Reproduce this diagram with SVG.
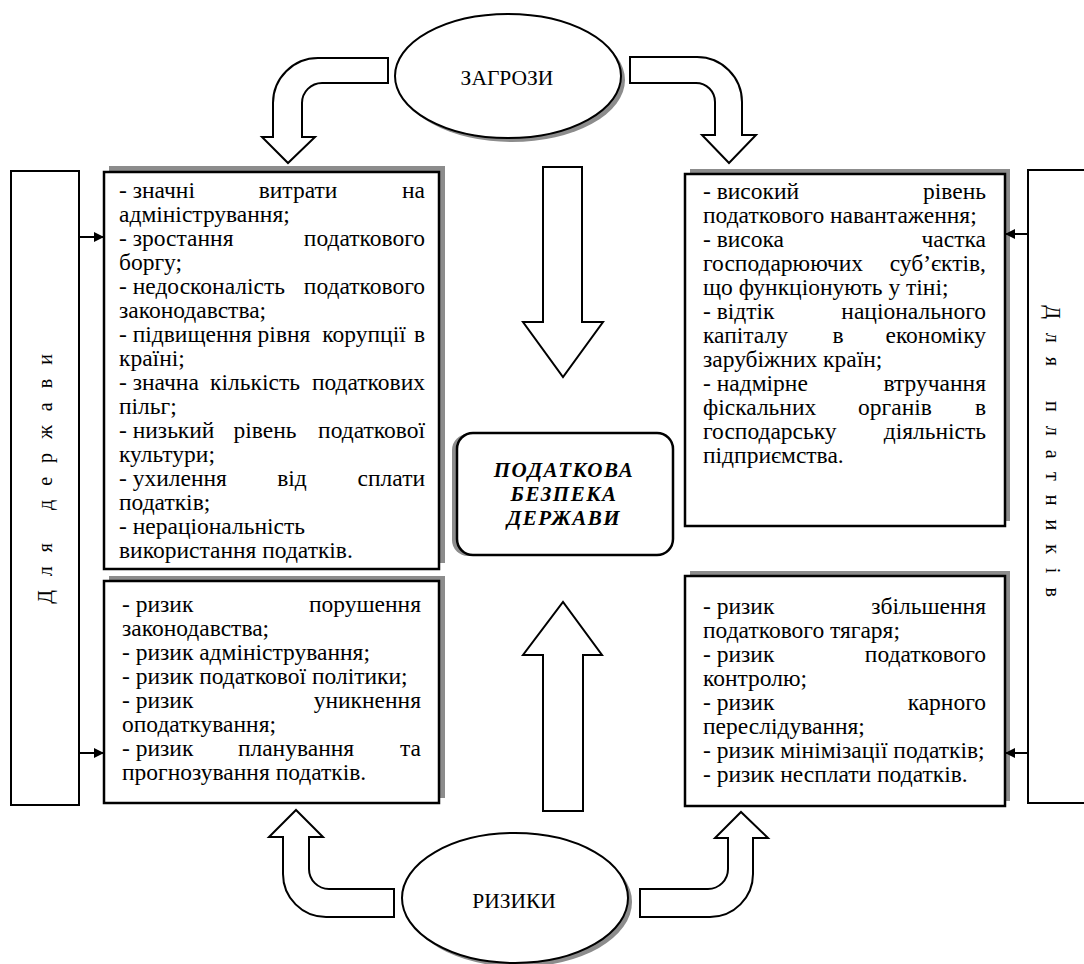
<svg xmlns="http://www.w3.org/2000/svg" width="1084" height="964" viewBox="0 0 1084 964">
<defs>
<style>
text{font-family:'Liberation Serif','Times New Roman',serif}
.t{font-size:23.5px;fill:#000}
.e{text-anchor:end}
.m{text-anchor:middle}
.box{fill:#fff;stroke:#000;stroke-width:2.5}
.shd{fill:#8c8c8c}
.side{fill:#fff;stroke:#000;stroke-width:2}
.arr{fill:#fff;stroke:#000;stroke-width:2;stroke-linejoin:miter}
.lbl{font-size:21.5px;text-anchor:middle}
.vt{font-size:20px;text-anchor:middle}
.ctr{font-size:21px;font-weight:bold;font-style:italic;text-anchor:middle;letter-spacing:1.5px}
.con{stroke:#000;stroke-width:2;fill:none}
</style>
<marker id="ah" viewBox="0 0 10 10" refX="10" refY="5" markerWidth="10" markerHeight="10" markerUnits="userSpaceOnUse" orient="auto">
<path d="M0,0 L10,5 L0,10 Z" fill="#000"/>
</marker>
</defs>
<rect width="1084" height="964" fill="#fff"/>

<g id="threats">
<ellipse cx="512" cy="80" rx="113" ry="62" class="shd"/>
<ellipse cx="508" cy="76" rx="113" ry="62" fill="#fff" stroke="#000" stroke-width="2"/>
<text x="507" y="85" class="lbl">ЗАГРОЗИ</text>
</g>

<g id="risks">
<ellipse cx="519" cy="902" rx="113" ry="65" class="shd"/>
<ellipse cx="515" cy="898" rx="113" ry="65" fill="#fff" stroke="#000" stroke-width="2"/>
<text x="514" y="908" class="lbl">РИЗИКИ</text>
</g>

<g id="state-side">
<rect x="11" y="171" width="68" height="634" class="side"/>
<text class="vt" transform="translate(45,472) rotate(-90)" dy="7" letter-spacing="14">Для держави</text>
</g>

<g id="payer-side">
<rect x="1028" y="170" width="80" height="633" class="side"/>
<text class="vt" transform="translate(1053,458) rotate(90)" dy="7" letter-spacing="14" word-spacing="2">Для платників</text>
</g>

<g id="state-threats">
<rect x="109" y="166" width="336" height="397" class="shd"/>
<rect x="104" y="172" width="335" height="397" class="box"/>
<text class="t" x="119" y="198">- значні</text><text class="t m" x="298" y="198">витрати</text><text class="t e" x="425" y="198">на</text>
<text class="t" x="119" y="222">адміністрування;</text>
<text class="t" x="119" y="246">- зростання</text><text class="t e" x="425" y="246">податкового</text>
<text class="t" x="119" y="270">боргу;</text>
<text class="t" x="119" y="294">- недосконалість</text><text class="t e" x="425" y="294">податкового</text>
<text class="t" x="119" y="318">законодавства;</text>
<text class="t" x="119" y="342">- підвищення</text><text class="t m" x="284" y="342">рівня</text><text class="t m" x="364" y="342">корупції</text><text class="t e" x="425" y="342">в</text>
<text class="t" x="119" y="366">країні;</text>
<text class="t" x="119" y="390">- значна</text><text class="t m" x="255" y="390">кількість</text><text class="t e" x="425" y="390">податкових</text>
<text class="t" x="119" y="414">пільг;</text>
<text class="t" x="119" y="438">- низький</text><text class="t m" x="265" y="438">рівень</text><text class="t e" x="425" y="438">податкової</text>
<text class="t" x="119" y="462">культури;</text>
<text class="t" x="119" y="486">- ухилення</text><text class="t m" x="292" y="486">від</text><text class="t e" x="425" y="486">сплати</text>
<text class="t" x="119" y="510">податків;</text>
<text class="t" x="119" y="534">- нераціональність</text>
<text class="t" x="119" y="558">використання податків.</text>
</g>

<g id="state-risks">
<rect x="109" y="576" width="336" height="222" class="shd"/>
<rect x="104" y="581" width="335" height="222" class="box"/>
<text class="t" x="122" y="612">- ризик</text><text class="t e" x="421" y="612">порушення</text>
<text class="t" x="122" y="636">законодавства;</text>
<text class="t" x="122" y="660">- ризик адміністрування;</text>
<text class="t" x="122" y="684">- ризик податкової політики;</text>
<text class="t" x="122" y="708">- ризик</text><text class="t e" x="421" y="708">уникнення</text>
<text class="t" x="122" y="732">оподаткування;</text>
<text class="t" x="122" y="756">- ризик</text><text class="t m" x="296" y="756">планування</text><text class="t e" x="421" y="756">та</text>
<text class="t" x="122" y="780">прогнозування податків.</text>
</g>

<g id="payer-threats">
<rect x="690" y="169" width="320" height="352" class="shd"/>
<rect x="685" y="174" width="320" height="352" class="box"/>
<text class="t" x="703" y="199">- високий</text><text class="t e" x="986" y="199">рівень</text>
<text class="t" x="703" y="223">податкового навантаження;</text>
<text class="t" x="703" y="247">- висока</text><text class="t e" x="986" y="247">частка</text>
<text class="t" x="703" y="271">господарюючих</text><text class="t e" x="986" y="271">суб’єктів,</text>
<text class="t" x="703" y="295">що функціонують у тіні;</text>
<text class="t" x="703" y="319">- відтік</text><text class="t e" x="986" y="319">національного</text>
<text class="t" x="703" y="343">капіталу</text><text class="t m" x="838" y="343">в</text><text class="t e" x="986" y="343">економіку</text>
<text class="t" x="703" y="367">зарубіжних країн;</text>
<text class="t" x="703" y="391">- надмірне</text><text class="t e" x="986" y="391">втручання</text>
<text class="t" x="703" y="415">фіскальних</text><text class="t m" x="895" y="415">органів</text><text class="t e" x="986" y="415">в</text>
<text class="t" x="703" y="439">господарську</text><text class="t e" x="986" y="439">діяльність</text>
<text class="t" x="703" y="463">підприємства.</text>
</g>

<g id="payer-risks">
<rect x="690" y="571" width="320" height="230" class="shd"/>
<rect x="685" y="576" width="320" height="230" class="box"/>
<text class="t" x="703" y="614">- ризик</text><text class="t e" x="986" y="614">збільшення</text>
<text class="t" x="703" y="638">податкового тягаря;</text>
<text class="t" x="703" y="662">- ризик</text><text class="t e" x="986" y="662">податкового</text>
<text class="t" x="703" y="686">контролю;</text>
<text class="t" x="703" y="710">- ризик</text><text class="t e" x="986" y="710">карного</text>
<text class="t" x="703" y="734">переслідування;</text>
<text class="t" x="703" y="758">- ризик мінімізації податків;</text>
<text class="t" x="703" y="782">- ризик несплати податків.</text>
</g>

<g id="tax-security">
<rect x="452" y="434" width="216" height="122" rx="16" class="shd"/>
<rect x="457" y="433" width="216" height="122" rx="16" fill="#fff" stroke="#000" stroke-width="2.5"/>
<text class="ctr" x="564" y="477">ПОДАТКОВА</text>
<text class="ctr" x="564" y="501">БЕЗПЕКА</text>
<text class="ctr" x="564" y="525">ДЕРЖАВИ</text>
</g>

<g id="connectors">
<path class="arr" d="M388,58 L318,58 A45,45 0 0 0 273,103 L273,137 L262,137 L288,163 L315,137 L302,137 L302,103 A20,20 0 0 1 322,83 L388,83 Z"/>
<path class="arr" d="M630,57 L697,57 A45,45 0 0 1 742,102 L742,135 L756,135 L729,163 L702,135 L715,135 L715,102 A19,19 0 0 0 696,83 L630,83 Z"/>
<path class="arr" d="M394,889 L329,889 A20,20 0 0 1 309,869 L309,837 L323,837 L296,810 L269,837 L283,837 L283,874 A43,43 0 0 0 326,917 L394,917 Z"/>
<path class="arr" d="M640,889 L708,889 A20,20 0 0 0 728,869 L728,838 L715,838 L741,812 L768,838 L753,838 L753,874 A43,43 0 0 1 710,917 L640,917 Z"/>
<path class="arr" d="M543,167 L582,167 L582,322 L603,322 L563,377 L523,322 L543,322 Z"/>
<path class="arr" d="M543,811 L583,811 L583,655 L602,655 L563,602 L523,655 L543,655 Z"/>
<line class="con" x1="79" y1="237" x2="104" y2="237" marker-end="url(#ah)"/>
<line class="con" x1="79" y1="753" x2="104" y2="753" marker-end="url(#ah)"/>
<line class="con" x1="1028" y1="234" x2="1005" y2="234" marker-end="url(#ah)"/>
<line class="con" x1="1028" y1="753" x2="1005" y2="753" marker-end="url(#ah)"/>
</g>
</svg>
